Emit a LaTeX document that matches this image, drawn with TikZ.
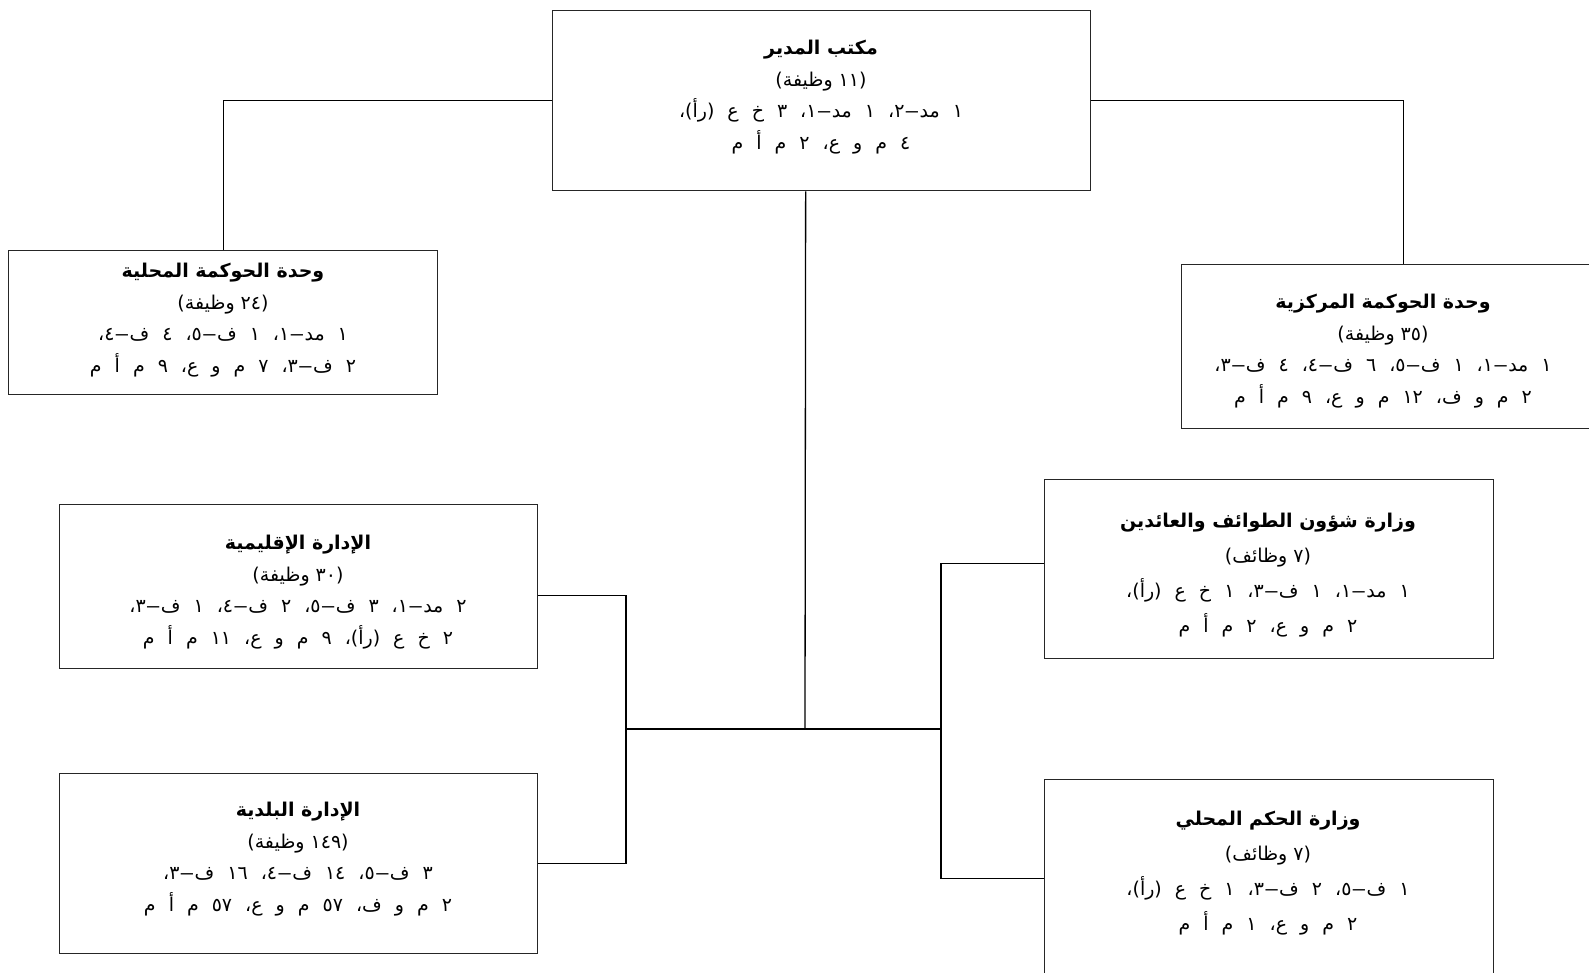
\documentclass[tikz,border=0pt]{standalone}
\usepackage{fontspec}
\TeXXeTstate=1
\newfontfamily\arabicfont[Script=Arabic]{DejaVu Sans}
\newfontfamily\dashfont[FakeStretch=1.6]{DejaVu Sans}
\newcommand\AR[1]{\beginR #1\endR}
\newcommand\DL[1]{{\spaceskip=13pt plus 2pt\AR{#1}}}
\newcommand\ds{{\dashfont –}}
\begin{document}
\begin{tikzpicture}[x=1pt,y=-1pt,
  box/.style={draw=black!85, line width=1.3pt, rectangle, inner sep=0pt, anchor=north west},
  lbl/.style={align=center, inner sep=0pt, font=\arabicfont\fontsize{19}{31.5}\selectfont},
  lblw/.style={align=center, inner sep=0pt, font=\arabicfont\fontsize{19}{35}\selectfont},
  conn/.style={draw=black, line width=1.3pt}]
\useasboundingbox (0,0) rectangle (1589,972);
% boxes
\node[box, minimum width=538pt, minimum height=180pt] (top) at (552,10) {};
\node[box, minimum width=429pt, minimum height=144pt] (local) at (8,250) {};
\node[box, minimum width=444pt, minimum height=164pt] (central) at (1181,264) {};
\node[box, minimum width=478pt, minimum height=164pt] (regional) at (59,504) {};
\node[box, minimum width=478pt, minimum height=180pt] (municipal) at (59,773) {};
\node[box, minimum width=449pt, minimum height=179pt] (min1) at (1044,479) {};
\node[box, minimum width=449pt, minimum height=198pt] (min2) at (1044,779) {};
% texts
\node[lbl] (topT) at (821,97) {\AR{\textbf{مكتب المدير}}\\\AR{(١١ وظيفة)}\\\DL{١ مد\ds٢، ١ مد\ds١، ٣ خ ع (رأ)،}\\\DL{٤ م و ع، ٢ م أ م}};
\node[lbl] (localT) at (223,320) {\AR{\textbf{وحدة الحوكمة المحلية}}\\\AR{(٢٤ وظيفة)}\\\DL{١ مد\ds١، ١ ف\ds٥، ٤ ف\ds٤،}\\\DL{٢ ف\ds٣، ٧ م و ع، ٩ م أ م}};
\node[lbl] (centralT) at (1383,351) {\AR{\textbf{وحدة الحوكمة المركزية}}\\\AR{(٣٥ وظيفة)}\\\DL{١ مد\ds١، ١ ف\ds٥، ٦ ف\ds٤، ٤ ف\ds٣،}\\\DL{٢ م و ف، ١٢ م و ع، ٩ م أ م}};
\node[lbl] (regionalT) at (298,592) {\AR{\textbf{الإدارة الإقليمية}}\\\AR{(٣٠ وظيفة)}\\\DL{٢ مد\ds١، ٣ ف\ds٥، ٢ ف\ds٤، ١ ف\ds٣،}\\\DL{٢ خ ع (رأ)، ٩ م و ع، ١١ م أ م}};
\node[lbl] (municipalT) at (298,859) {\AR{\textbf{الإدارة البلدية}}\\\AR{(١٤٩ وظيفة)}\\\DL{٣ ف\ds٥، ١٤ ف\ds٤، ١٦ ف\ds٣،}\\\DL{٢ م و ف، ٥٧ م و ع، ٥٧ م أ م}};
\node[lblw] (min1T) at (1268,575) {\AR{\textbf{وزارة شؤون الطوائف والعائدين}}\\\AR{(٧ وظائف)}\\\DL{١ مد\ds١، ١ ف\ds٣، ١ خ ع (رأ)،}\\\DL{٢ م و ع، ٢ م أ م}};
\node[lblw] (min2T) at (1268,873) {\AR{\textbf{وزارة الحكم المحلي}}\\\AR{(٧ وظائف)}\\\DL{١ ف\ds٥، ٢ ف\ds٣، ١ خ ع (رأ)،}\\\DL{٢ م و ع، ١ م أ م}};
% connectors
\coordinate (hub) at (805,729);
\coordinate (hubL) at (626,729);
\coordinate (hubR) at (941,729);
\draw[conn] (top.west) -| (local.north);
\draw[conn] (top.east) -| (central.north);
\draw[conn] ([xshift=-16pt]top.south) -- (hub);
\draw[conn] (hubL) -- (hubR);
\draw[conn] ([yshift=-9pt]regional.east) -| (hubL);
\draw[conn] (municipal.east) -| (hubL);
\draw[conn] ([yshift=5.5pt]min1.west) -| (hubR);
\draw[conn] (min2.west) -| (hubR);
\end{tikzpicture}
\end{document}
